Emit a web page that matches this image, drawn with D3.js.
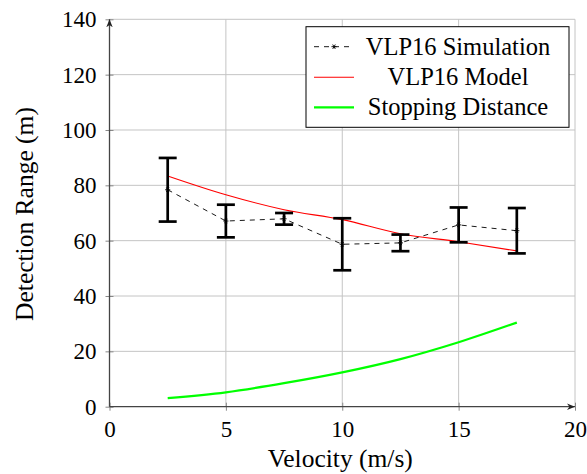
<!DOCTYPE html>
<html>
<head>
<meta charset="utf-8">
<script src="https://cdn.jsdelivr.net/npm/d3@7"></script>
<style>
  body { margin: 0; background: #fff; }
  svg { display: block; font-family: "Liberation Serif", "DejaVu Serif", serif; }
</style>
</head>
<body>
<svg width="587" height="474"></svg>
<script>
// values
var velocity = [2.5, 5, 7.5, 10, 12.5, 15, 17.5];
var simRange = [78.4, 67.1, 67.9, 58.7, 59.2, 65.7, 63.6];
var simErr = [11.5, 5.9, 2.1, 9.4, 3.0, 6.3, 8.2];
var modelRange = [83.4, 76.6, 71.2, 67.6, 62.5, 59.6, 56.3];
var stopDist = [3.1, 5.2, 8.5, 12.4, 17.2, 23.3, 30.4];
var xTicks = [0, 5, 10, 15, 20];
var yTicks = [0, 20, 40, 60, 80, 100, 120, 140];
var legendNames = ['VLP16 Simulation', 'VLP16 Model', 'Stopping Distance'];

var svg = d3.select('svg');
var x = d3.scaleLinear().domain([0, 20]).range([109.5, 575]);
var y = d3.scaleLinear().domain([0, 140]).range([406.7, 19.3]);

var defs = svg.append('defs');
defs.append('marker').attr('id', 'arr').attr('viewBox', '0 0 10 10')
  .attr('refX', 10).attr('refY', 5).attr('markerWidth', 8).attr('markerHeight', 8)
  .attr('markerUnits', 'userSpaceOnUse').attr('orient', 'auto')
  .append('path').attr('d', 'M0,1 L10,5 L0,9 L3,5 Z').attr('fill', '#222');

// grid
svg.append('g').selectAll('line').data(xTicks.slice(1)).enter().append('line')
  .attr('x1', d => x(d)).attr('x2', d => x(d)).attr('y1', y(0)).attr('y2', y(140))
  .attr('stroke', '#c4c4c4').attr('stroke-width', 1);
svg.append('g').selectAll('line').data(yTicks.slice(1)).enter().append('line')
  .attr('x1', x(0)).attr('x2', x(20)).attr('y1', d => y(d)).attr('y2', d => y(d))
  .attr('stroke', '#c4c4c4').attr('stroke-width', 1);

// axes with d3 axis for ticks and labels
var xAxis = svg.append('g').attr('transform', 'translate(0,' + y(0) + ')')
  .call(d3.axisBottom(x).tickValues(xTicks).tickSize(4).tickPadding(10));
var yAxis = svg.append('g').attr('transform', 'translate(' + x(0) + ',0)')
  .call(d3.axisLeft(y).tickValues(yTicks).tickSize(4).tickPadding(9));
[xAxis, yAxis].forEach(function (g) {
  g.select('.domain').remove();
  g.selectAll('line').attr('stroke', '#888');
  g.selectAll('text').attr('fill', '#000').style('font-size', '23px')
    .style('font-family', '"Liberation Serif", serif');
});
xAxis.selectAll('.tick line').attr('y1', -4);
yAxis.selectAll('.tick line').attr('x1', 4).attr('x2', -4);
xAxis.selectAll('text').attr('dy', '0.72em');

svg.append('line').attr('x1', x(0)).attr('x2', x(20)).attr('y1', y(0)).attr('y2', y(0))
  .attr('stroke', '#444').attr('stroke-width', 1.3).attr('marker-end', 'url(#arr)');
svg.append('line').attr('x1', x(0)).attr('x2', x(0)).attr('y1', y(0)).attr('y2', y(140))
  .attr('stroke', '#444').attr('stroke-width', 1.3).attr('marker-end', 'url(#arr)');

// stopping distance
var smooth = d3.line().x((d, i) => x(velocity[i])).y(d => y(d)).curve(d3.curveMonotoneX);
svg.append('path').attr('d', smooth(stopDist)).attr('fill', 'none')
  .attr('stroke', '#00ff00').attr('stroke-width', 2.2);

// model
svg.append('path').attr('d', smooth(modelRange)).attr('fill', 'none')
  .attr('stroke', '#ff0000').attr('stroke-width', 1.1);

// simulation dashed line
var straight = d3.line().x((d, i) => x(velocity[i])).y(d => y(d));
svg.append('path').attr('d', straight(simRange)).attr('fill', 'none')
  .attr('stroke', '#000').attr('stroke-width', 0.9).attr('stroke-dasharray', '5,5');

// error bars
var eb = svg.append('g').selectAll('g').data(simRange).enter().append('g');
eb.append('line').attr('x1', (d, i) => x(velocity[i])).attr('x2', (d, i) => x(velocity[i]))
  .attr('y1', (d, i) => y(d + simErr[i])).attr('y2', (d, i) => y(d - simErr[i]))
  .attr('stroke', '#000').attr('stroke-width', 2.7);
eb.append('line').attr('x1', (d, i) => x(velocity[i]) - 9).attr('x2', (d, i) => x(velocity[i]) + 9)
  .attr('y1', (d, i) => y(d + simErr[i])).attr('y2', (d, i) => y(d + simErr[i]))
  .attr('stroke', '#000').attr('stroke-width', 2.7);
eb.append('line').attr('x1', (d, i) => x(velocity[i]) - 9).attr('x2', (d, i) => x(velocity[i]) + 9)
  .attr('y1', (d, i) => y(d - simErr[i])).attr('y2', (d, i) => y(d - simErr[i]))
  .attr('stroke', '#000').attr('stroke-width', 2.7);

var star = d3.symbol().type(d3.symbolAsterisk).size(18);
svg.append('g').selectAll('path').data(simRange).enter().append('path')
  .attr('transform', (d, i) => 'translate(' + x(velocity[i]) + ',' + y(d) + ') rotate(90)')
  .attr('d', star).attr('fill', 'none').attr('stroke', '#000').attr('stroke-width', 0.9);

// axis titles
svg.append('text').attr('x', (x(0) + x(20)) / 2 - 2).attr('y', 467)
  .attr('text-anchor', 'middle').style('font-size', '25.5px').text('Velocity (m/s)');
svg.append('text').attr('transform', 'translate(33,' + ((y(0) + y(140)) / 2 + 1) + ') rotate(-90)')
  .attr('text-anchor', 'middle').style('font-size', '25.5px').text('Detection Range (m)');

// legend
var lg = svg.append('g');
lg.append('rect').attr('x', 306).attr('y', 26.7).attr('width', 263).attr('height', 100.6)
  .attr('fill', '#fff').attr('stroke', '#000').attr('stroke-width', 1);
var rowY = [46.7, 77.3, 107.3];
lg.append('line').attr('x1', 314).attr('x2', 354).attr('y1', rowY[0]).attr('y2', rowY[0])
  .attr('stroke', '#000').attr('stroke-width', 0.9).attr('stroke-dasharray', '5,5').attr('stroke-dashoffset', 0);
lg.append('path').attr('transform', 'translate(334,' + rowY[0] + ') rotate(90)')
  .attr('d', star).attr('fill', 'none').attr('stroke', '#000').attr('stroke-width', 0.9);
lg.append('line').attr('x1', 314).attr('x2', 354).attr('y1', rowY[1]).attr('y2', rowY[1])
  .attr('stroke', '#ff0000').attr('stroke-width', 1.1);
lg.append('line').attr('x1', 314).attr('x2', 354).attr('y1', rowY[2]).attr('y2', rowY[2])
  .attr('stroke', '#00ff00').attr('stroke-width', 2.2);
lg.selectAll('text').data(legendNames).enter().append('text')
  .attr('x', 458).attr('y', (d, i) => rowY[i] + 8)
  .attr('text-anchor', 'middle').style('font-size', '24.5px').text(d => d);
</script>
</body>
</html>
